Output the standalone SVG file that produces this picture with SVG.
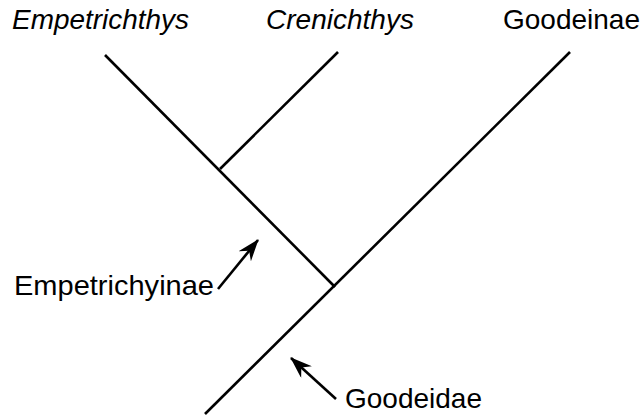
<svg xmlns="http://www.w3.org/2000/svg" width="644" height="418" viewBox="0 0 644 418">
<style>
text{font-family:"Liberation Sans",Arial,sans-serif;font-size:28px;fill:#000}
.it{font-style:italic}
.br{stroke:#000;stroke-width:2.6;fill:none;stroke-linecap:butt}
.ar{stroke:#000;stroke-width:2.6;fill:none}
</style>
<defs>
<marker id="ah" markerWidth="22" markerHeight="16" refX="21" refY="8" orient="auto" markerUnits="userSpaceOnUse" viewBox="0 0 22 16">
<path d="M0,0 L22,8 L0,16 L7,8 Z" fill="#000"/>
</marker>
</defs>
<rect width="644" height="418" fill="#fff"/>
<g id="edges">
<line class="br" x1="105" y1="55" x2="335" y2="287"/>
<line class="br" x1="338" y1="52" x2="220" y2="169"/>
<line class="br" x1="570" y1="52" x2="205" y2="414"/>
</g>
<g id="arrows">
<path class="ar" d="M218,289 L258,240" marker-end="url(#ah)"/>
<path class="ar" d="M336,399 L291,358" marker-end="url(#ah)"/>
</g>
<g id="empetrichthys"><text class="it" x="12" y="29" textLength="177" lengthAdjust="spacingAndGlyphs">Empetrichthys</text></g>
<g id="crenichthys"><text class="it" x="266" y="29" textLength="148" lengthAdjust="spacingAndGlyphs">Crenichthys</text></g>
<g id="goodeinae"><text x="503" y="29" textLength="137" lengthAdjust="spacingAndGlyphs">Goodeinae</text></g>
<g id="empetrichyinae"><text x="14" y="295" textLength="200" lengthAdjust="spacingAndGlyphs">Empetrichyinae</text></g>
<g id="goodeidae"><text x="345" y="408" textLength="137" lengthAdjust="spacingAndGlyphs">Goodeidae</text></g>
</svg>
